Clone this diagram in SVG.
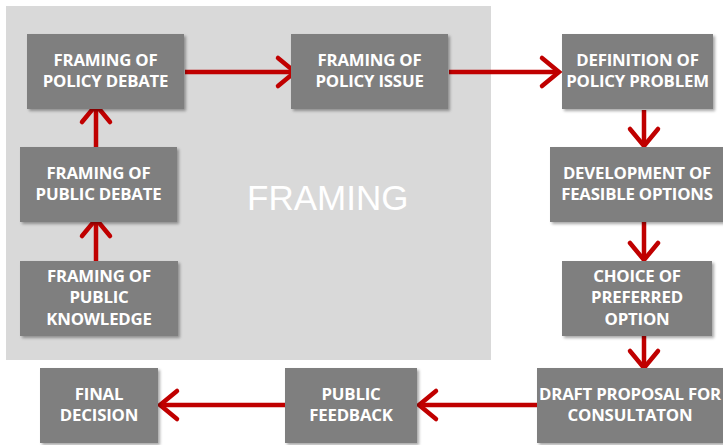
<svg xmlns="http://www.w3.org/2000/svg" width="723" height="445" viewBox="0 0 723 445">
  <style>
    .box { fill: #7f7f7f; filter: url(#shadow); }
    .lbl { fill: #ffffff; font-family: "Open Sans", "Noto Sans", sans-serif; font-weight: 700; font-size: 16.8px; text-anchor: middle; letter-spacing: -0.2px; }
    .link { stroke: #c00000; stroke-width: 4.5; fill: none; }
    .head { stroke: #c00000; stroke-width: 4.5; fill: none; stroke-linecap: round; stroke-linejoin: miter; }
  </style>
  <defs>
    <filter id="shadow" x="-10%" y="-10%" width="125%" height="130%">
      <feGaussianBlur in="SourceAlpha" stdDeviation="1.5"/>
      <feOffset dx="2" dy="2" result="b"/>
      <feComponentTransfer><feFuncA type="linear" slope="0.35"/></feComponentTransfer>
      <feMerge><feMergeNode/><feMergeNode in="SourceGraphic"/></feMerge>
    </filter>
  </defs>
  <rect width="723" height="445" fill="#ffffff"/>

  <!-- framing region -->
  <g id="framing-area">
    <rect x="6" y="6" width="485" height="354" fill="#d9d9d9"/>
    <text x="247" y="210" fill="#ffffff" font-family="Liberation Sans, Arial, sans-serif" font-size="35">FRAMING</text>
  </g>

  <!-- connectors -->
  <g id="connectors">
    <line class="link" x1="185" y1="72" x2="294" y2="72"/>
    <polyline class="head" points="278,58 295,72 278,86"/>
    <line class="link" x1="449" y1="72" x2="558" y2="72"/>
    <polyline class="head" points="542,58 559,72 542,86"/>

    <line class="link" x1="96" y1="147" x2="96" y2="106"/>
    <polyline class="head" points="82,122 96,105 110,122"/>
    <line class="link" x1="96" y1="261" x2="96" y2="220"/>
    <polyline class="head" points="82,236 96,219 110,236"/>

    <line class="link" x1="644" y1="110" x2="644" y2="145"/>
    <polyline class="head" points="630,129 644,146 658,129"/>
    <line class="link" x1="644" y1="222" x2="644" y2="259"/>
    <polyline class="head" points="630,243 644,260 658,243"/>
    <line class="link" x1="644" y1="336" x2="644" y2="367"/>
    <polyline class="head" points="630,351 644,368 658,351"/>

    <line class="link" x1="537" y1="405" x2="420" y2="405"/>
    <polyline class="head" points="436,391 419,405 436,419"/>
    <line class="link" x1="285" y1="405" x2="161" y2="405"/>
    <polyline class="head" points="177,391 160,405 177,419"/>
  </g>

  <g id="policy-debate">
    <rect class="box" x="27" y="34" width="157" height="75"/>
    <text class="lbl" x="105.5" y="66">FRAMING OF</text>
    <text class="lbl" x="105.5" y="87">POLICY DEBATE</text>
  </g>
  <g id="public-debate">
    <rect class="box" x="20" y="147" width="157" height="75"/>
    <text class="lbl" x="98.5" y="179">FRAMING OF</text>
    <text class="lbl" x="98.5" y="200">PUBLIC DEBATE</text>
  </g>
  <g id="public-knowledge">
    <rect class="box" x="20" y="261" width="158" height="75"/>
    <text class="lbl" x="99" y="282">FRAMING OF</text>
    <text class="lbl" x="99" y="303">PUBLIC</text>
    <text class="lbl" x="99" y="325">KNOWLEDGE</text>
  </g>
  <g id="policy-issue">
    <rect class="box" x="291" y="34" width="157" height="75"/>
    <text class="lbl" x="369.5" y="66">FRAMING OF</text>
    <text class="lbl" x="369.5" y="87">POLICY ISSUE</text>
  </g>
  <g id="policy-problem">
    <rect class="box" x="562" y="34" width="151" height="75"/>
    <text class="lbl" x="637.5" y="66">DEFINITION OF</text>
    <text class="lbl" x="637.5" y="87">POLICY PROBLEM</text>
  </g>
  <g id="feasible-options">
    <rect class="box" x="550" y="147" width="175" height="75"/>
    <text class="lbl" x="637" y="179">DEVELOPMENT OF</text>
    <text class="lbl" x="637" y="200">FEASIBLE OPTIONS</text>
  </g>
  <g id="preferred-option">
    <rect class="box" x="562" y="261" width="150" height="75"/>
    <text class="lbl" x="637" y="282">CHOICE OF</text>
    <text class="lbl" x="637" y="303">PREFERRED</text>
    <text class="lbl" x="637" y="325">OPTION</text>
  </g>
  <g id="draft-proposal">
    <rect class="box" x="537" y="368" width="190" height="75"/>
    <text class="lbl" x="630" y="400">DRAFT PROPOSAL FOR</text>
    <text class="lbl" x="630" y="421">CONSULTATON</text>
  </g>
  <g id="public-feedback">
    <rect class="box" x="285" y="368" width="132" height="75"/>
    <text class="lbl" x="351" y="400">PUBLIC</text>
    <text class="lbl" x="351" y="421">FEEDBACK</text>
  </g>
  <g id="final-decision">
    <rect class="box" x="40" y="368" width="118" height="75"/>
    <text class="lbl" x="99" y="400">FINAL</text>
    <text class="lbl" x="99" y="421">DECISION</text>
  </g>
</svg>
